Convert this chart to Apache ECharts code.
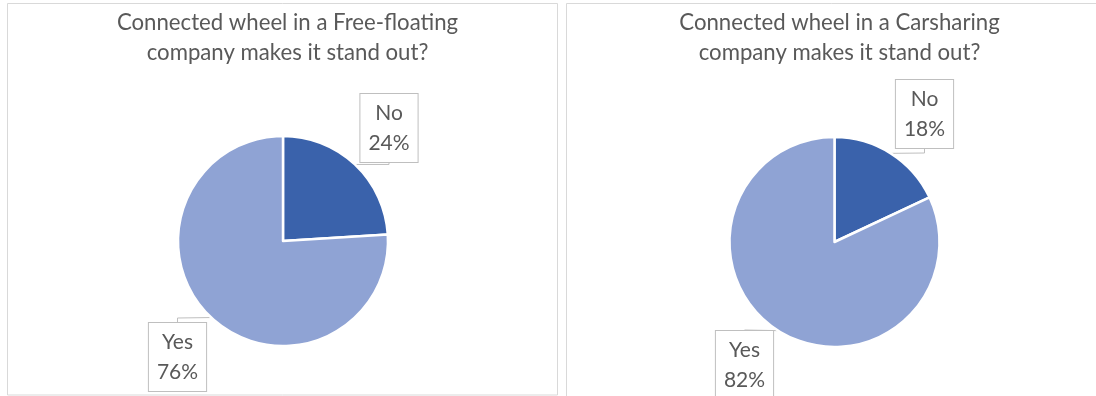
<!DOCTYPE html>
<html>
<head>
<meta charset="utf-8">
<script src="https://cdn.jsdelivr.net/npm/echarts@6/dist/echarts.min.js"></script>
<style>
html,body{margin:0;padding:0;background:#fff;}
#c{width:1096px;height:396px;}
</style>
</head>
<body>
<div id="c"></div>
<script>
const categories = ['No', 'Yes'];
const freeFloatingValues = [24, 76];
const carsharingValues = [18, 82];
const titles = ['Connected wheel in a Free-floating\ncompany makes it stand out?', 'Connected wheel in a Carsharing\ncompany makes it stand out?'];

const FONT = 'Lato, "Open Sans", sans-serif';
const TEXT = '#595959';
const colors = ['#3A62AB', '#8FA3D4'];

const labelPos = [
  [[389, 128], [177.5, 357]],
  [[924.5, 114], [744.5, 365]]
];

function makeSeries(values, center, idx) {
  return {
    type: 'pie',
    radius: 105,
    center: center,
    startAngle: 90,
    clockwise: true,
    animation: false,
    data: categories.map((c, i) => ({ name: c, value: values[i], itemStyle: { color: colors[i] } })),
    itemStyle: { borderColor: '#fff', borderWidth: 2.5 },
    label: {
      show: true,
      position: 'outside',
      formatter: p => p.name + '\n' + p.value + '%',
      fontFamily: FONT,
      fontSize: 21,
      lineHeight: 30,
      color: TEXT,
      backgroundColor: '#fff',
      borderColor: '#BFBFBF',
      borderWidth: 1,
      padding: [4, 8, 4, 8],
      align: 'center'
    },
    labelLine: { show: true, length: 8, length2: 4, lineStyle: { color: '#BFBFBF', width: 1 } },
    labelLayout: function (p) {
      const pos = labelPos[idx][p.dataIndex];
      return { x: pos[0], y: pos[1], align: 'center', verticalAlign: 'middle' };
    },
    emphasis: { disabled: true }
  };
}

const chart = echarts.init(document.getElementById('c'), null, { renderer: 'canvas' });
chart.setOption({
  backgroundColor: '#fff',
  graphic: [
    { type: 'rect', shape: { x: 7.5, y: 3.5, width: 550, height: 391.5 }, style: { fill: 'none', stroke: '#D9D9D9', lineWidth: 1 }, silent: true },
    { type: 'rect', shape: { x: 566.5, y: 3.5, width: 540, height: 400 }, style: { fill: 'none', stroke: '#D9D9D9', lineWidth: 1 }, silent: true }
  ],
  title: [
    { text: titles[0], left: 282.5, top: 3, textAlign: 'center', textStyle: { fontFamily: FONT, fontSize: 22.2, lineHeight: 30, fontWeight: 'normal', color: TEXT } },
    { text: titles[1], left: 834.5, top: 3, textAlign: 'center', textStyle: { fontFamily: FONT, fontSize: 22.2, lineHeight: 30, fontWeight: 'normal', color: TEXT } }
  ],
  series: [
    makeSeries(freeFloatingValues, [283, 241], 0),
    makeSeries(carsharingValues, [834.5, 242], 1)
  ]
});
</script>
</body>
</html>
